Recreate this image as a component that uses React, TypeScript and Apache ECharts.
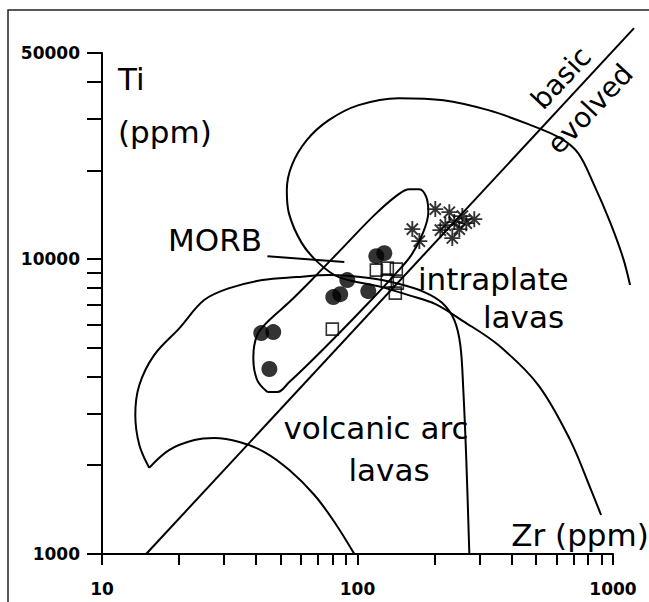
import { useEffect, useRef } from "react";
import * as echarts from "echarts";

// Axis ticks and labels (Zr and Ti in ppm, both logarithmic)
const zrLabels = [10, 100, 1000];
const zrTicks = [10, 20, 30, 40, 50, 60, 70, 80, 90, 100, 200, 300, 400, 500, 600, 700, 800, 900, 1000];
const tiLabels = [1000, 10000, 50000];
const tiTicks = [1000, 2000, 3000, 4000, 5000, 6000, 7000, 8000, 9000, 10000, 20000, 30000, 40000, 50000];

// Samples: [Zr, Ti]
const filledCircles: [number, number][] = [
  [42.0, 5613], [46.8, 5655], [45.2, 4239], [80.4, 7434], [85.6, 7608],
  [91.2, 8488], [110.2, 7788], [118.5, 10235], [127.3, 10478],
];
const openSquares: [number, number][] = [
  [79.7, 5790], [118.5, 9176], [130.8, 9322], [141.9, 9250],
  [130.8, 8422], [143.2, 8292], [140.6, 7667],
];
const asterisks: [number, number][] = [
  [163.9, 12639], [174.6, 11510], [201.6, 14775], [228.8, 14430], [220.7, 13040],
  [239.2, 13350], [257.2, 13990], [266.6, 13243], [286.5, 13660], [235.0, 11783],
  [250.3, 12639], [211.0, 12540],
];

// Basic / evolved dividing line (runs past the top of the Ti axis)
const basicEvolvedLine: [number, number][] = [[14.9, 1000], [1223, 60700]];

// Leader line from the MORB label
const morbLeader: [number, number][] = [[44.4, 10235], [88.8, 9768]];

// Volcanic arc lavas field: upper boundary and lower boundary
const arcUpper: [number, number][] = [
  [15.3, 1960], [14.0, 2342], [13.5, 2960], [14.0, 3741], [16.0, 4727], [20.1, 5836],
  [25.1, 7262], [31.5, 7973], [42.4, 8488], [57.6, 8690], [77.6, 8827], [111.2, 8623],
  [145.8, 8228], [182.6, 7730], [214.8, 7094], [239.3, 6213], [252.6, 5110],
  [259.5, 3597], [266.6, 2083], [274.0, 1000],
];
const arcLower: [number, number][] = [
  [15.3, 1960], [18.3, 2252], [23.0, 2434], [27.5, 2473], [34.5, 2397], [43.2, 2217],
  [54.1, 1926], [67.8, 1585], [81.2, 1284], [97.2, 1000],
];

// MORB field (closed loop)
const morbField: [number, number][] = [
  [44.4, 3541], [40.5, 3889], [39.1, 4617], [40.5, 5526], [45.2, 6213], [54.1, 7151],
  [67.8, 8690], [88.8, 11070], [116.4, 14100], [143.2, 16480], [159.5, 17270],
  [174.6, 17270], [185.9, 16230], [189.3, 14430], [180.9, 12350], [162.4, 10320],
  [139.4, 8827], [111.2, 7151], [84.9, 5613], [64.8, 4441], [54.1, 3829], [48.6, 3541],
  [44.4, 3541],
];

// Intraplate lavas field (its right side runs beyond Zr = 1000)
const intraplateField: [number, number][] = [
  [1180, 8165], [1108, 10080], [985, 13350], [853, 17820], [738, 22870], [628, 25720],
  [470.5, 28680], [328, 32000], [218.7, 34590], [145.8, 35140], [101.6, 33270],
  [77.6, 29590], [63.6, 25320], [55.6, 20830], [53.1, 17140], [54.1, 14320],
  [60.8, 11330], [70.9, 9692], [84.9, 8690], [125.1, 8036], [159.5, 7551],
  [203.5, 7040], [257.2, 6213], [358.9, 5110], [514.8, 3741], [686.9, 2434],
  [830, 1648], [908, 1356],
];

const FONT = '"DejaVu Sans", "Liberation Sans", sans-serif';
const line = { color: "#000", width: 2 };

// Plot area of the visible axes
const GRID = { left: 102, right: 36, top: 53, bottom: 48 };
const PX_PER_DECADE_X = (649 - GRID.left - GRID.right) / 2; // 10 .. 1000
const PX_PER_DECADE_Y = (602 - GRID.top - GRID.bottom) / Math.log10(50); // 1000 .. 50000

// A wider, hidden coordinate system on the same log scale, so that lines
// running past the visible axis ends are still drawn.
const WIDE_X_MAX = 1400;
const WIDE_Y_MAX = 70000;
const WIDE_GRID = {
  left: GRID.left,
  top: 602 - GRID.bottom - Math.log10(WIDE_Y_MAX / 1000) * PX_PER_DECADE_Y,
  bottom: GRID.bottom,
  right: 649 - GRID.left - Math.log10(WIDE_X_MAX / 10) * PX_PER_DECADE_X,
};

function curve(data: [number, number][], smooth = 0.35, wide = false) {
  return {
    type: "line",
    data,
    symbol: "none",
    smooth,
    clip: !wide,
    xAxisIndex: wide ? 1 : 0,
    yAxisIndex: wide ? 1 : 0,
    lineStyle: line,
    silent: true,
    z: 2,
  };
}

function label(text: string, x: number, y: number, align = "left", rotation = 0, size = 31) {
  return {
    type: "text",
    x,
    y,
    rotation,
    style: {
      text,
      font: `${size}px ${FONT}`,
      fill: "#000",
      align,
      verticalAlign: "middle",
    },
    z: 10,
  };
}

const asteriskPath = "path://M0,-10L0,10M-10,0L10,0M-7,-7L7,7M-7,7L7,-7";

export default function App() {
  const ref = useRef<HTMLDivElement>(null);

  useEffect(() => {
    if (!ref.current) return;
    const chart = echarts.init(ref.current, null, { renderer: "svg" });
    const rot = (47 * Math.PI) / 180;

    chart.setOption({
      animation: false,
      backgroundColor: "#fff",
      grid: [GRID, WIDE_GRID],
      xAxis: [
        {
          type: "log",
          logBase: 10,
          min: 10,
          max: 1000,
          splitLine: { show: false },
          axisLine: { lineStyle: { color: "#000", width: 2 } },
          axisTick: { customValues: zrTicks, length: 11, lineStyle: { color: "#000", width: 2 } },
          axisLabel: {
            customValues: zrLabels,
            formatter: (v: number) => String(v),
            margin: 26,
            color: "#000",
            fontFamily: FONT,
            fontWeight: "bold",
            fontSize: 17,
          },
        },
        { type: "log", logBase: 10, min: 10, max: WIDE_X_MAX, gridIndex: 1, show: false },
      ],
      yAxis: [
        {
          type: "log",
          logBase: 10,
          min: 1000,
          max: 50000,
          splitLine: { show: false },
          axisLine: { lineStyle: { color: "#000", width: 2 } },
          axisTick: { customValues: tiTicks, length: 15, lineStyle: { color: "#000", width: 2 } },
          axisLabel: {
            customValues: tiLabels,
            formatter: (v: number) => String(v),
            margin: 22,
            color: "#000",
            fontFamily: FONT,
            fontWeight: "bold",
            fontSize: 17,
          },
        },
        { type: "log", logBase: 10, min: 1000, max: WIDE_Y_MAX, gridIndex: 1, show: false },
      ],
      graphic: [
        {
          type: "polyline",
          shape: { points: [[8, 602], [8, 10], [649, 10]] },
          style: { stroke: "#222", lineWidth: 1.5, fill: "none" },
        },
        label("Ti", 118, 79),
        label("(ppm)", 118, 132),
        label("MORB", 262, 240, "right"),
        label("intraplate", 418, 279),
        label("lavas", 483, 317),
        label("volcanic arc", 376, 428, "center"),
        label("lavas", 389, 470, "center"),
        label("Zr (ppm)", 580, 535, "center"),
        label("basic", 561, 78, "center", rot, 28),
        label("evolved", 590, 109, "center", rot, 28),
      ],
      series: [
        curve(basicEvolvedLine, 0, true),
        curve(morbLeader, 0),
        curve(arcUpper),
        curve(arcLower),
        curve(morbField),
        curve(intraplateField, 0.35, true),
        {
          type: "scatter",
          data: filledCircles,
          symbol: "circle",
          symbolSize: 16,
          itemStyle: { color: "#000" },
          z: 5,
        },
        {
          type: "scatter",
          data: openSquares,
          symbol: "rect",
          symbolSize: 12,
          itemStyle: { color: "transparent", borderColor: "#000", borderWidth: 1.6 },
          z: 6,
        },
        {
          type: "scatter",
          data: asterisks,
          symbol: asteriskPath,
          symbolSize: 16,
          itemStyle: { color: "transparent", borderColor: "#000", borderWidth: 1.9 },
          z: 6,
        },
      ],
    });

    return () => chart.dispose();
  }, []);

  return (
    <div
      ref={ref}
      style={{ position: "fixed", left: 0, top: 0, width: 649, height: 602, background: "#fff" }}
    />
  );
}
